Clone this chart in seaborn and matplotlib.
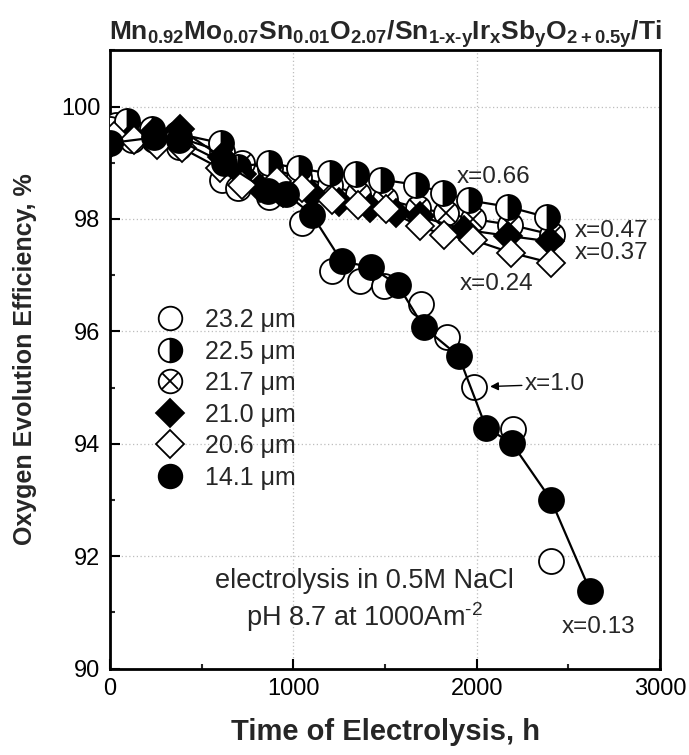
import numpy as np
import pandas as pd
import matplotlib
matplotlib.use("Agg")
import matplotlib.pyplot as plt
import seaborn as sns
from matplotlib.lines import Line2D
from matplotlib.legend_handler import HandlerTuple
from matplotlib.ticker import MultipleLocator

# ---------------- data ----------------
t_232 = [30, 120, 240, 375, 610, 700, 865, 1045, 1212, 1362, 1495, 1697, 1839, 1984, 2196, 2404]
e_232 = [99.67, 99.41, 99.41, 99.28, 98.70, 98.56, 98.40, 97.93, 97.07, 96.89, 96.80, 96.48, 95.90, 95.02, 94.26, 91.92]

t_225 = [90, 230, 365, 605, 700, 865, 1030, 1200, 1340, 1480, 1670, 1815, 1960, 2168, 2386]
e_225 = [99.74, 99.60, 99.52, 99.35, 98.93, 99.00, 98.90, 98.81, 98.80, 98.70, 98.61, 98.47, 98.33, 98.22, 98.03]

t_217 = [0, 120, 240, 375, 610, 720, 870, 1030, 1200, 1350, 1500, 1680, 1830, 1980, 2180, 2413]
e_217 = [99.60, 99.55, 99.50, 99.45, 99.20, 99.00, 98.90, 98.75, 98.60, 98.45, 98.35, 98.20, 98.10, 98.00, 97.90, 97.72]

t_210 = [0, 120, 240, 380, 610, 720, 820, 946, 1100, 1250, 1420, 1560, 1688, 1933, 2170, 2402]
e_210 = [99.33, 99.45, 99.55, 99.60, 99.10, 98.80, 98.55, 98.46, 98.45, 98.30, 98.20, 98.10, 98.05, 97.81, 97.70, 97.60]

t_206 = [20, 130, 257, 393, 600, 719, 909, 1045, 1208, 1353, 1507, 1688, 1824, 1978, 2187, 2404]
e_206 = [99.47, 99.40, 99.32, 99.26, 98.90, 98.61, 98.67, 98.55, 98.34, 98.25, 98.17, 97.87, 97.72, 97.63, 97.40, 97.22]

t_141 = [0, 240, 375, 620, 860, 960, 1100, 1263, 1426, 1571, 1710, 1902, 2051, 2192, 2404, 2618]
e_141 = [99.35, 99.45, 99.40, 99.00, 98.50, 98.45, 98.08, 97.25, 97.14, 96.82, 96.08, 95.56, 94.29, 94.01, 93.01, 91.39]

legend_labels = ["23.2 \u03bcm", "22.5 \u03bcm", "21.7 \u03bcm", "21.0 \u03bcm", "20.6 \u03bcm", "14.1 \u03bcm"]
x_ticks = [0, 1000, 2000, 3000]
y_ticks = [90, 92, 94, 96, 98, 100]

# ---------------- style ----------------
sns.set_theme(style="white")
plt.rcParams['font.family'] = ['Liberation Sans', 'DejaVu Sans']
plt.rcParams['mathtext.fontset'] = 'custom'
plt.rcParams['mathtext.rm'] = 'Liberation Sans:bold'
plt.rcParams['mathtext.it'] = 'Liberation Sans:bold'
plt.rcParams['mathtext.bf'] = 'Liberation Sans:bold'
plt.rcParams['mathtext.sf'] = 'Liberation Sans'
plt.rcParams['mathtext.default'] = 'rm'

fig = plt.figure(figsize=(6.89, 7.55), dpi=100)
ax = fig.add_axes([0.1597, 0.1143, 0.7983, 0.819])

MS_C = 18
MS_D = 14.5
MEW = 1.3
LW = 1.6

common = dict(color='black', markeredgecolor='black', markeredgewidth=MEW,
              estimator=None, sort=False, ax=ax)

# 23.2 um open circles (no line)
sns.lineplot(x=t_232, y=e_232, marker='o', markersize=MS_C, markerfacecolor='white',
             linestyle='', zorder=3, **common)
# 21.7 um crossed circles
sns.lineplot(x=t_217, y=e_217, marker='o', markersize=MS_C, markerfacecolor='white',
             linewidth=LW, zorder=4, **common)
sns.lineplot(x=t_217, y=e_217, marker='x', markersize=MS_C * 0.707,
             linestyle='', zorder=4.1, **common)
# 22.5 um half-filled circles
sns.lineplot(x=t_225, y=e_225, marker='o', markersize=MS_C, markerfacecolor='black',
             fillstyle='right', markerfacecoloralt='white', linewidth=LW, zorder=5, **common)
# 21.0 um filled diamonds
sns.lineplot(x=t_210, y=e_210, marker='D', markersize=MS_D, markerfacecolor='black',
             linewidth=LW, zorder=6, **common)
# 20.6 um open diamonds
sns.lineplot(x=t_206, y=e_206, marker='D', markersize=MS_D, markerfacecolor='white',
             linewidth=LW, zorder=7, **common)
# 14.1 um filled circles
sns.lineplot(x=t_141, y=e_141, marker='o', markersize=MS_C, markerfacecolor='black',
             linewidth=LW, zorder=8, **common)

# ---------------- axes ----------------
ax.set_xlim(0, 3000)
ax.set_ylim(90, 101)
ax.set_xticks(x_ticks)
ax.set_yticks(y_ticks)
ax.xaxis.set_minor_locator(MultipleLocator(500))
ax.yaxis.set_minor_locator(MultipleLocator(1))
ax.tick_params(axis='both', which='major', direction='in', length=7, width=1.5,
               labelsize=17, pad=7, colors='black', bottom=True, left=True,
               top=False, right=False)
ax.tick_params(axis='both', which='minor', direction='in', length=3.5, width=1.5,
               bottom=True, left=True, top=False, right=False)
for s in ax.spines.values():
    s.set_visible(True)
    s.set_color('black')
    s.set_linewidth(2)
ax.grid(True, which='major', linestyle=(0, (1, 2)), color='#bdbdbd', linewidth=0.9)
ax.set_axisbelow(True)

ax.set_xlabel("Time of Electrolysis, h", fontsize=21, fontweight='bold', labelpad=13)
ax.set_ylabel("Oxygen Evolution Efficiency, %", fontsize=18, fontweight='bold', labelpad=17)
ax.set_title("Mn$_{0.92}$Mo$_{0.07}$Sn$_{0.01}$O$_{2.07}$/Sn$_{1\u2010x\u2010y}$Ir$_{x}$Sb$_{y}$O$_{2+0.5y}$/Ti",
             fontsize=19, fontweight='bold', pad=6)

# ---------------- annotations ----------------
afs = 17.5
ax.text(1893, 98.75, "x=0.66", fontsize=afs, ha='left', va='center')
ax.text(2537, 97.79, "x=0.47", fontsize=afs, ha='left', va='center')
ax.text(2537, 97.40, "x=0.37", fontsize=afs, ha='left', va='center')
ax.text(1909, 96.85, "x=0.24", fontsize=afs, ha='left', va='center')
ax.text(2464, 90.74, "x=0.13", fontsize=afs, ha='left', va='center')
ax.annotate("x=1.0", xy=(2073, 95.02), xytext=(2264, 95.06), fontsize=afs,
            ha='left', va='center',
            arrowprops=dict(arrowstyle='-|>', color='black', lw=1.0,
                            mutation_scale=12, shrinkA=0, shrinkB=0))
ax.text(1386, 91.56, "electrolysis in 0.5M NaCl", fontsize=19.5, ha='center', va='center')
ax.text(1386, 90.92, "pH 8.7 at 1000Am$\\mathsf{^{\u20102}}$", fontsize=19.5, ha='center', va='center')

# ---------------- legend ----------------
h_open = Line2D([], [], marker='o', ls='', ms=17, mfc='white', mec='black', mew=MEW)
h_half = Line2D([], [], marker='o', ls='', ms=17, mfc='black', fillstyle='right',
                markerfacecoloralt='white', mec='black', mew=MEW)
h_cc = Line2D([], [], marker='o', ls='', ms=17, mfc='white', mec='black', mew=MEW)
h_cx = Line2D([], [], marker='x', ls='', ms=17 * 0.707, mec='black', mew=MEW)
h_fd = Line2D([], [], marker='D', ls='', ms=14, mfc='black', mec='black', mew=MEW)
h_od = Line2D([], [], marker='D', ls='', ms=14, mfc='white', mec='black', mew=MEW)
h_fc = Line2D([], [], marker='o', ls='', ms=17, mfc='black', mec='black', mew=MEW)
handles = [h_open, h_half, (h_cc, h_cx), h_fd, h_od, h_fc]
ax.legend(handles, legend_labels, loc='upper left', bbox_to_anchor=(0.078, 0.583),
          frameon=False, fontsize=18, handlelength=1.4, handletextpad=0.7,
          labelspacing=0.3, borderaxespad=0, borderpad=0,
          handler_map={tuple: HandlerTuple(ndivide=1, pad=0)})

fig.savefig("out.png", dpi=100)
